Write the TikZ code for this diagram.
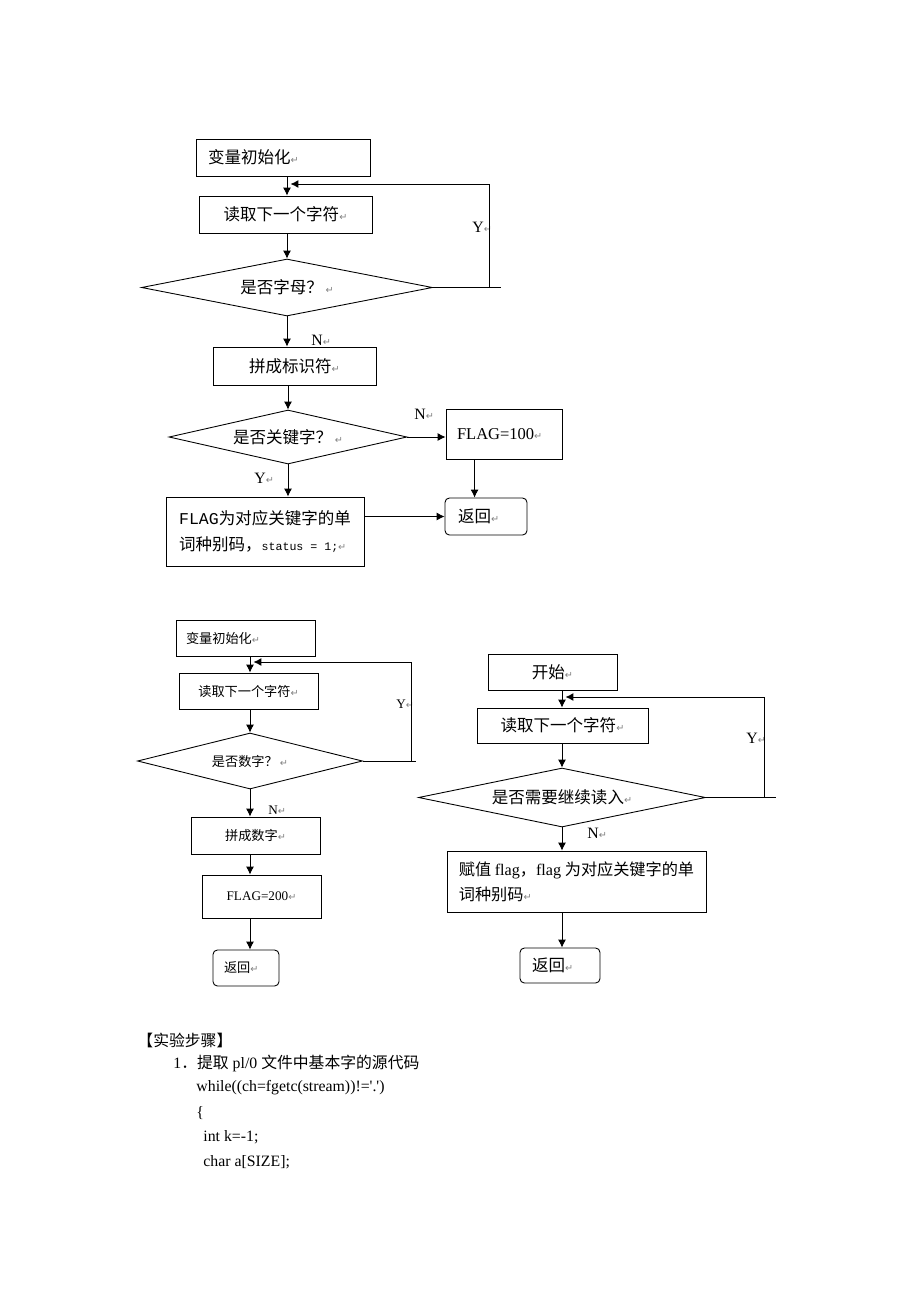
\documentclass[tikz,border=0pt]{standalone}
\usepackage{fontspec}
\setmainfont{Liberation Serif}
\newfontfamily\cjk{Noto Sans CJK SC}
\newfontfamily\symf{DejaVu Sans}
\newfontfamily\monof{Liberation Mono}
\newcommand\retmk{{\symf\fontsize{5.5}{6}\selectfont\color{gray}↵}}
\usetikzlibrary{shapes.geometric}
\usetikzlibrary{arrows.meta}

\begin{document}
\begin{tikzpicture}[x=0.02cm, y=-0.02cm, >={Latex[length=4.5pt,width=4.5pt]}, line width=0.5pt,
  box/.style={draw, rectangle, inner sep=0pt},
  lft/.style={align=left},
  ret/.style={draw, rectangle, rounded corners=2.5pt, inner sep=0pt},
  dia/.style={draw, diamond, aspect=5, inner sep=0pt},
  big/.style={font=\cjk\fontsize{9.4}{14}\selectfont},
  small/.style={font=\cjk\fontsize{7.5}{10}\selectfont},
  lab/.style={anchor=west, inner sep=0pt, font=\fontsize{9}{10}\selectfont},
  txt/.style={anchor=west, inner sep=0pt, font=\fontsize{9}{11}\selectfont}]
\useasboundingbox (0,0) rectangle (920,1302);

\node[box, big, lft, text width=3.0cm, inner xsep=0.24cm, minimum height=0.74cm] (init1) at (283,157.5) {变量初始化\retmk};
\node[box, big, minimum width=3.46cm, minimum height=0.74cm] (read1) at (285.5,214.5) {读取下一个字符\retmk};
\node[dia, big, minimum width=5.82cm, minimum height=1.14cm] (dia1) at (287,287.5) {是否字母？\,\retmk};
\node[box, big, minimum width=3.26cm, minimum height=0.76cm] (id1) at (294.5,366) {拼成标识符\retmk};
\node[dia, big, minimum width=4.76cm, minimum height=1.08cm] (dia2) at (288,437) {是否关键字？\,\retmk};
\node[box, lft, text width=1.88cm, inner xsep=0.22cm, minimum height=1.0cm, font=\fontsize{9.4}{12}\selectfont] (flag1) at (504,434) {FLAG=100\retmk};
\node[ret, big, lft, text width=1.12cm, inner xsep=0.26cm, minimum height=0.74cm] (back1) at (486,516.5) {返回\retmk};
\node[box, align=left, minimum width=3.96cm, minimum height=1.38cm, font=\cjk\fontsize{9.4}{14.8}\selectfont] (code1) at (265,531.5) {{\monof FLAG}为对应关键字的单\\词种别码，{\monof\fontsize{6.6}{7}\selectfont status = 1;}\retmk};
\node[lab] (y1) at (472,227) {Y\retmk};
\node[lab] (n1) at (311,340) {N\retmk};
\node[lab] (n2) at (414,414) {N\retmk};
\node[lab] (y2) at (254,478) {Y\retmk};
\coordinate (loop1) at (489,184);

\draw[->] (init1.south -| dia1.north) -- (read1.north -| dia1.north);
\draw[->] (read1.south -| dia1.north) -- (dia1.north);
\draw[->] (dia1.south) -- (id1.north -| dia1.south);
\draw[->] (id1.south -| dia2.north) -- (dia2.north);
\draw[->] (dia2.south) -- (code1.north -| dia2.south);
\draw[->] (dia2.east) -- (flag1.west |- dia2.east);
\draw[->] ([xshift=0.58cm]flag1.south west) -- ([xshift=0.58cm]flag1.south west |- back1.north);
\draw[->] (code1.east |- back1.west) -- (back1.west);
\draw (dia1.east) -- ++(68,0);
\draw[->] (dia1.east -| loop1) -- (loop1) -- ([xshift=2pt]dia1.north |- loop1);

\node[box, small, lft, text width=2.38cm, inner xsep=0.2cm, minimum height=0.72cm] (init2) at (245.5,638) {变量初始化\retmk};
\node[box, small, minimum width=2.78cm, minimum height=0.72cm] (read2) at (248.5,691) {读取下一个字符\retmk};
\node[dia, small, minimum width=4.5cm, minimum height=1.12cm] (dia3) at (250,761) {是否数字？\,\retmk};
\node[box, small, minimum width=2.58cm, minimum height=0.74cm] (num2) at (255.5,835.5) {拼成数字\retmk};
\node[box, minimum width=2.38cm, minimum height=0.86cm, font=\fontsize{7.5}{9}\selectfont] (flag2) at (261.5,896.5) {FLAG=200\retmk};
\node[ret, small, lft, text width=0.88cm, inner xsep=0.22cm, minimum height=0.72cm] (back2) at (246,968) {返回\retmk};
\node[lab, font=\fontsize{7.5}{9}\selectfont] (y3) at (396,704) {Y\retmk};
\node[lab, font=\fontsize{7.5}{9}\selectfont] (n3) at (268,810) {N\retmk};
\coordinate (loop2) at (411,662);

\draw[->] (init2.south -| dia3.north) -- (read2.north -| dia3.north);
\draw[->] (read2.south -| dia3.north) -- (dia3.north);
\draw[->] (dia3.south) -- (num2.north -| dia3.south);
\draw[->] (num2.south -| dia3.south) -- (flag2.north -| dia3.south);
\draw[->] (flag2.south -| dia3.south) -- (back2.north -| dia3.south);
\draw (dia3.east) -- ++(53,0);
\draw[->] (dia3.east -| loop2) -- (loop2) -- ([xshift=2pt]dia3.north |- loop2);

\node[box, big, minimum width=2.58cm, minimum height=0.72cm] (start3) at (552.5,672) {开始\retmk};
\node[box, big, minimum width=3.42cm, minimum height=0.7cm] (read3) at (562.5,725.5) {读取下一个字符\retmk};
\node[dia, big, minimum width=5.74cm, minimum height=1.18cm] (dia4) at (562,797.5) {是否需要继续读入\retmk};
\node[box, align=left, minimum width=5.18cm, minimum height=1.22cm, font=\cjk\fontsize{9.2}{14.2}\selectfont] (code3) at (576.5,881.5) {赋值 {\rmfamily flag}，{\rmfamily flag} 为对应关键字的单\\词种别码\retmk};
\node[ret, big, lft, text width=1.12cm, inner xsep=0.24cm, minimum height=0.7cm] (back3) at (560,965.5) {返回\retmk};
\node[lab] (y4) at (746,738) {Y\retmk};
\node[lab] (n4) at (587,833) {N\retmk};
\coordinate (loop3) at (764,697);

\draw[->] (start3.south -| dia4.north) -- (read3.north -| dia4.north);
\draw[->] (read3.south -| dia4.north) -- (dia4.north);
\draw[->] (dia4.south) -- (code3.north -| dia4.south);
\draw[->] (code3.south -| dia4.south) -- (back3.north -| dia4.south);
\draw (dia4.east) -- ++(70,0);
\draw[->] (dia4.east -| loop3) -- (loop3) -- ([xshift=2pt]dia4.north |- loop3);

\node[txt, font=\cjk\fontsize{9}{11}\selectfont] (step) at (137,1040) {【实验步骤】};
\node[txt] (item) at (173,1063) {1{\cjk ．提取} pl/0 {\cjk 文件中基本字的源代码}};
\node[txt] (line1) at (196,1088) {while((ch=fgetc(stream))!=\textquotesingle.\textquotesingle)};
\node[txt] (line2) at (196,1113) {\{};
\node[txt] (line3) at (203,1137) {int k=-1;};
\node[txt] (line4) at (203,1162) {char a[SIZE];};
\end{tikzpicture}
\end{document}
